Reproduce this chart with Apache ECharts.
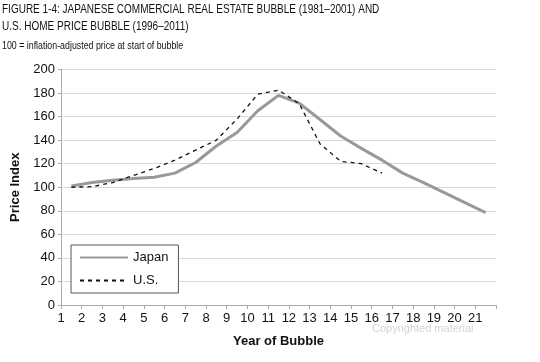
<!DOCTYPE html>
<html><head><meta charset="utf-8">
<script src="https://cdn.jsdelivr.net/npm/echarts@6/dist/echarts.min.js"></script>
<style>html,body{margin:0;padding:0;background:#fff}#c{width:540px;height:362px}</style>
</head><body><div id="c"></div>
<script>
const years = [1,2,3,4,5,6,7,8,9,10,11,12,13,14,15,16,17,18,19,20,21];
const japan = [101,104,106,107.5,108.5,112,121,135,146.5,165,178,171.5,157.5,143.5,133,123,112,104,95.5,87,78.5];
const us = [100,100.5,104,110,116,123,131.5,140,158,179,182.5,171,137,122,120,112];
const yTicks = [0,20,40,60,80,100,120,140,160,180,200];
const titleLines = ['FIGURE 1-4: JAPANESE COMMERCIAL REAL ESTATE BUBBLE (1981\u20132001) AND',
                    'U.S. HOME PRICE BUBBLE (1996\u20132011)'];
const subtitle = '100 = inflation-adjusted price at start of bubble';

const FONT = '"Liberation Sans", Arial, sans-serif';
const chart = echarts.init(document.getElementById('c'), null, {renderer: 'canvas'});
// points sit in the middle of each year's band; labels at band starts
const toPts = arr => arr.map((v, i) => [years[i] - 0.5, v]);

chart.setOption({
  animation: false,
  graphic: [
    {type: 'text', x: 2, y: 10, scaleX: 0.8, style: {text: titleLines[0], fill: '#111', font: '12.5px ' + FONT, verticalAlign: 'middle'}},
    {type: 'text', x: 2, y: 27, scaleX: 0.8, style: {text: titleLines[1], fill: '#111', font: '12.5px ' + FONT, verticalAlign: 'middle'}},
    {type: 'text', x: 2, y: 46, scaleX: 0.84, style: {text: subtitle, fill: '#111', font: '10.5px ' + FONT, verticalAlign: 'middle'}},
    {type: 'text', x: 372, y: 329, style: {text: 'Copyrighted material', fill: '#d4d4d4', font: '11px ' + FONT, verticalAlign: 'middle'}}
  ],
  legend: {
    orient: 'vertical', left: 71, top: 245,
    padding: [6, 10, 6, 8], itemGap: 10, itemWidth: 48, itemHeight: 14,
    borderColor: '#555', borderWidth: 1, backgroundColor: '#fff',
    itemStyle: {opacity: 0},
    textStyle: {fontFamily: FONT, fontSize: 13, color: '#111', width: 40},
    data: ['Japan', 'U.S.']
  },
  grid: {left: 61, right: 44, top: 69.5, bottom: 57, containLabel: false},
  xAxis: {
    type: 'value', min: 0, max: years.length, interval: 1,
    name: 'Year of Bubble', nameLocation: 'middle', nameGap: 30,
    nameTextStyle: {fontFamily: FONT, fontSize: 13, fontWeight: 'bold', color: '#111'},
    axisLine: {show: true, lineStyle: {color: '#aaa'}},
    axisTick: {show: true, length: 4, lineStyle: {color: '#aaa'}},
    splitLine: {show: false},
    axisLabel: {fontFamily: FONT, fontSize: 13, color: '#111', margin: 7,
      formatter: v => (v < years.length ? String(years[v]) : '')}
  },
  yAxis: {
    type: 'value', min: 0, max: 200, interval: 20,
    name: 'Price Index', nameLocation: 'middle', nameGap: 38,
    nameTextStyle: {fontFamily: FONT, fontSize: 13, fontWeight: 'bold', color: '#111'},
    axisLine: {show: true, lineStyle: {color: '#aaa'}},
    axisTick: {show: true, length: 3, lineStyle: {color: '#aaa'}},
    splitLine: {show: true, lineStyle: {color: '#d9d9d9', width: 1}},
    axisLabel: {fontFamily: FONT, fontSize: 13, color: '#111', margin: 6,
      formatter: v => (yTicks.indexOf(v) >= 0 ? String(v) : '')}
  },
  series: [
    {name: 'Japan', type: 'line', data: toPts(japan), symbol: 'none',
     lineStyle: {color: '#999', width: 3}, itemStyle: {color: '#999'}, z: 2},
    {name: 'U.S.', type: 'line', data: toPts(us), symbol: 'none',
     lineStyle: {color: '#111', width: 1.3, type: [4, 4]}, itemStyle: {color: '#111'}, z: 3}
  ]
});
</script></body></html>
